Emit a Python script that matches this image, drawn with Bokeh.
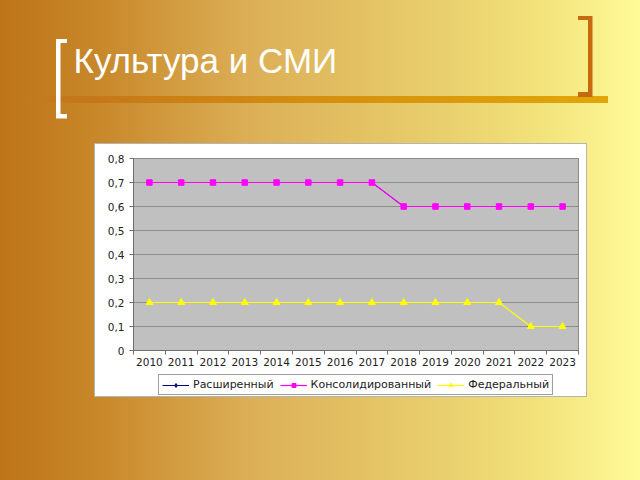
from bokeh.plotting import figure
from bokeh.models import (Range1d, FixedTicker, CustomJSTickFormatter, Legend, LegendItem)
from bokeh.core.properties import value
from bokeh.embed import file_html
from bokeh.resources import INLINE

# ---------------- data ----------------
title_text = "Культура и СМИ"
years = [2010, 2011, 2012, 2013, 2014, 2015, 2016, 2017, 2018, 2019, 2020, 2021, 2022, 2023]
rasshirenny = [0.7, 0.7, 0.7, 0.7, 0.7, 0.7, 0.7, 0.7, 0.6, 0.6, 0.6, 0.6, 0.6, 0.6]
konsolid = [0.7, 0.7, 0.7, 0.7, 0.7, 0.7, 0.7, 0.7, 0.6, 0.6, 0.6, 0.6, 0.6, 0.6]
federal = [0.2, 0.2, 0.2, 0.2, 0.2, 0.2, 0.2, 0.2, 0.2, 0.2, 0.2, 0.2, 0.1, 0.1]
series_names = ["Расширенный", "Консолидированный", "Федеральный"]
y_ticks = [0, 0.1, 0.2, 0.3, 0.4, 0.5, 0.6, 0.7, 0.8]

# ---------------- layout ----------------
W, H = 640, 480
BL, BB = 40, 30                         # borders reserved for the axes' side panels
FL, FR, FT, FB = 133, 578, 158, 350     # chart plot area in page px
x_lo, x_hi = years[0] - 0.5, years[-1] + 0.5
y_lo, y_hi = y_ticks[0], y_ticks[-1]
kx = (FR - FL) / (x_hi - x_lo)
ky = (FB - FT) / (y_hi - y_lo)


def solid(color, x, y, w, h):
    return f"linear-gradient({color},{color}) {x}px {y}px / {w}px {h}px no-repeat"


orng = "#C8680F"
layers = [
    solid("#FFFFFF", 56, 39, 4.5, 79),        # left bracket
    solid("#FFFFFF", 56, 39, 11, 4),
    solid("#FFFFFF", 56, 113.5, 11, 4.5),
    solid(orng, 587.5, 16, 4.5, 81),           # right bracket
    solid(orng, 578, 16, 14, 4),
    solid(orng, 578, 92, 14, 5),
    "linear-gradient(to right, rgba(196,118,22,0) 0%, #C4761A 8%, #D6920E 55%, #E2A608 100%) "
    "28px 96px / 580px 7px no-repeat",         # title underline
    solid("#FFFFFF", 95, 144, 491, 252),       # chart panel
    solid("#B4B4B4", 94, 143, 493, 254),       # chart panel edge
    "linear-gradient(to right, #BD7418 0%, #C8882A 15.6%, #DCAF56 39%, #E9D06E 70%, "
    "#F2E27A 84%, #FFFA98 100%)",              # slide background
]

p = figure(width=W, height=H, output_backend="svg", toolbar_location=None, title=None,
           x_range=Range1d(x_lo - (FL - BL) / kx, x_hi + (W - FR) / kx),
           y_range=Range1d(y_lo - ((H - BB) - FB) / ky, y_hi + FT / ky),
           min_border_left=BL, min_border_right=0, min_border_top=0, min_border_bottom=BB,
           background_fill_color=None, border_fill_color=None, outline_line_color=None)
p.styles = {"background": ", ".join(layers)}
# pixel coordinates (value == page pixel) for the title text
p.extra_x_ranges = {"px": Range1d(BL, W)}
p.extra_y_ranges = {"px": Range1d(H - BB, 0)}

p.text(x=[73], y=[60], text=[title_text], x_range_name="px", y_range_name="px",
       text_color="white", text_font=value("Liberation Sans"), text_font_size="35px",
       text_baseline="alphabetic", text_align="left")

# plot area and grid
p.quad(left=[x_lo], right=[x_hi], bottom=[y_lo], top=[y_hi],
       fill_color="#C0C0C0", line_color="#8C8C8C", line_width=1, level="image")
p.segment(x0=[x_lo] * len(y_ticks), x1=[x_hi] * len(y_ticks), y0=y_ticks, y1=y_ticks,
          line_color="#8C8C8C", line_width=1, level="underlay")
p.grid.visible = False

# series
r1l = p.line(years, rasshirenny, line_color="#000080", line_width=1)
r1s = p.scatter(years, rasshirenny, marker="diamond", size=5, fill_color="#000080", line_color="#000080")
r2l = p.line(years, konsolid, line_color="#FF00FF", line_width=1.2)
r2s = p.scatter(years, konsolid, marker="square", size=5.5, fill_color="#FF00FF", line_color="#FF00FF")
r3l = p.line(years, federal, line_color="#FFFF00", line_width=1.2)
r3s = p.scatter(years, federal, marker="triangle", size=7, fill_color="#FFFF00", line_color="#FFFF00")

# axes, drawn at the plot-area edges
lab_font = "DejaVu Sans"
ax_col = "#6E6E6E"
yax = p.yaxis[0]
yax.fixed_location = x_lo
yax.bounds = (y_lo, y_hi)
yax.ticker = FixedTicker(ticks=y_ticks)
yax.formatter = CustomJSTickFormatter(code="return tick == 0 ? '0' : tick.toFixed(1).replace('.', ',');")
yax.major_tick_out = 4
yax.major_tick_in = 0
yax.minor_tick_line_color = None
yax.axis_line_color = ax_col
yax.major_tick_line_color = ax_col
yax.major_label_standoff = 5
yax.major_label_text_font = lab_font
yax.major_label_text_font_size = "10.5px"
yax.major_label_text_color = "#222222"

boundaries = [y - 0.5 for y in years] + [years[-1] + 0.5]
xax = p.xaxis[0]
xax.fixed_location = y_lo
xax.bounds = (x_lo, x_hi)
xax.ticker = FixedTicker(ticks=years, minor_ticks=boundaries)
xax.major_tick_line_color = None
xax.major_tick_out = 0
xax.major_tick_in = 0
xax.minor_tick_out = 4
xax.minor_tick_in = 0
xax.minor_tick_line_color = ax_col
xax.axis_line_color = ax_col
xax.major_label_standoff = 3
xax.major_label_text_font = lab_font
xax.major_label_text_font_size = "10.5px"
xax.major_label_text_color = "#222222"

legend = Legend(items=[LegendItem(label=series_names[0], renderers=[r1l, r1s]),
                       LegendItem(label=series_names[1], renderers=[r2l, r2s]),
                       LegendItem(label=series_names[2], renderers=[r3l, r3s])],
                orientation="horizontal", location=(158 - BL, (H - BB) - 395), margin=0,
                padding=3, spacing=6, glyph_width=27, glyph_height=10,
                label_height=10, label_standoff=4,
                label_text_font=lab_font, label_text_font_size="11px",
                label_text_color="#222222",
                border_line_color="#404040", border_line_width=1,
                background_fill_color="white", background_fill_alpha=1)
p.add_layout(legend, "center")

open("out.html", "w").write(file_html(p, INLINE))
